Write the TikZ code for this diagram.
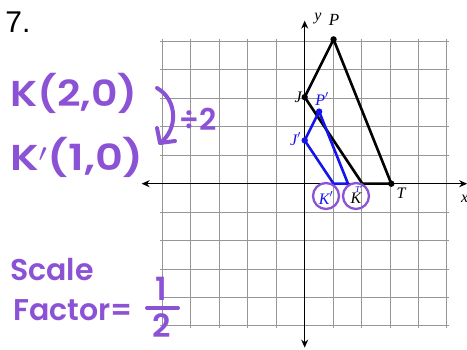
\documentclass[tikz,border=0pt]{standalone}
\usepackage{fontspec}
\newfontfamily\hand{Poppins}[BoldFont={* SemiBold}]
\newfontfamily\plain{Liberation Sans}
\newfontfamily\serif{Liberation Serif}
\usetikzlibrary{arrows.meta}
\definecolor{purp}{RGB}{140,82,214}
\definecolor{gridc}{RGB}{150,150,150}
\definecolor{blu}{RGB}{20,20,235}
\tikzset{
  handtxt/.style={text=purp,inner sep=0pt,font=\hand\bfseries\fontsize{36}{36}\selectfont},
  lbl/.style={inner sep=0pt,font=\serif\fontsize{16}{16}\selectfont\itshape},
  bluelbl/.style={lbl,text=blu},
  axis/.style={line width=1.2pt,-{Stealth[length=8pt,width=7pt]}},
  figblack/.style={line width=2.6pt,line join=round,black},
  figblue/.style={line width=2.6pt,line join=round,blu},
  ring/.style={draw=purp,line width=2.3pt,circle,minimum size=26pt,inner sep=0pt},
  handline/.style={draw=purp,line width=4pt,line cap=round,line join=round}
}
\begin{document}
\begin{tikzpicture}[x=1pt,y=-1pt]
\useasboundingbox (0,0) rectangle (467,350);
\fill[white] (0,0) rectangle (467,350);
\begin{scope}[shift={(304.7,183.7)},x=28.86pt,y=28.86pt]
  \draw[gridc,line width=1pt] (-5,-5) grid (5,5);
  \coordinate (xl) at (-5.65,0); \coordinate (xr) at (5.63,0);
  \coordinate (yb) at (0,-5.68); \coordinate (yt) at (0,5.65);
  \coordinate (O) at (0,0);
  \draw[axis] (O) -- (xl); \draw[axis] (O) -- (xr);
  \draw[axis] (O) -- (yb); \draw[axis] (O) -- (yt);
  \coordinate (J) at (0,3); \coordinate (P) at (1,5);
  \coordinate (T) at (3,0); \coordinate (K) at (2,0);
  \coordinate (J2) at (0,1.5); \coordinate (P2) at (0.5,2.5);
  \coordinate (T2) at (1.5,0); \coordinate (K2) at (1,0);
  \draw[figblack] (J) -- (P) -- (T) -- (K) -- cycle;
  \draw[figblue] (J2) -- (P2) -- (T2) -- (K2) -- cycle;
  \fill (J) circle (3.2pt); \fill (P) circle (3.2pt); \fill (T) circle (3.2pt);
  \fill[blu] (J2) circle (3.2pt); \fill[blu] (P2) circle (3.2pt);
\end{scope}
% axis and point labels
\node[lbl] (ylab) at (318,19) {y};
\node[lbl,font=\serif\fontsize{17}{17}\selectfont\itshape] (Plab) at (334,20) {P};
\node[lbl,anchor=east] (Jlab) at (302,97) {J};
\node[bluelbl] (P2lab) at (322,99) {P$'$};
\node[bluelbl,anchor=east] (J2lab) at (301,139) {J$'$};
\node[lbl] (Tlab) at (401,193) {T};
\node[lbl,anchor=west] (xlab) at (461,199) {x};
\node[bluelbl,font=\serif\fontsize{9}{9}\selectfont\itshape] (T2lab) at (359,189) {T$'$};
\node[lbl] (Klab) at (356,198) {K};
\node[bluelbl] (K2lab) at (326,198) {K$'$};
\node[ring] (ringK2) at (326,196) {};
\node[ring] (ringK) at (356,196) {};
% handwriting
\node[inner sep=0pt,font=\plain\fontsize{30}{30}\selectfont] (num) at (18,22) {7.};
\node[handtxt,xscale=1.14] (k1) at (74,93) {K(2,0)};
\node[handtxt,xscale=1.2] (k2) at (77,157) {K$'$(1,0)};
\node[handtxt,font=\hand\bfseries\fontsize{30}{30}\selectfont] (div) at (198,119) {÷2};
\coordinate (a1) at (157,88);
\coordinate (a2) at (160,143);
\draw[handline] (a1) .. controls (178,100) and (178,130) .. (a2);
\draw[handline] (175,141) -- (a2) -- (157,128);
\node[handtxt,font=\hand\bfseries\fontsize{30}{30}\selectfont] (sc) at (52,270) {Scale};
\node[handtxt,font=\hand\bfseries\fontsize{30}{30}\selectfont] (fa) at (73,310) {Factor=};
\node[handtxt,font=\hand\bfseries\fontsize{32}{32}\selectfont] (one) at (161,289) {1};
\node[handtxt,font=\hand\bfseries\fontsize{32}{32}\selectfont] (two) at (162,326) {2};
\draw[handline] (147,308) -- (178,308);
\end{tikzpicture}
\end{document}
